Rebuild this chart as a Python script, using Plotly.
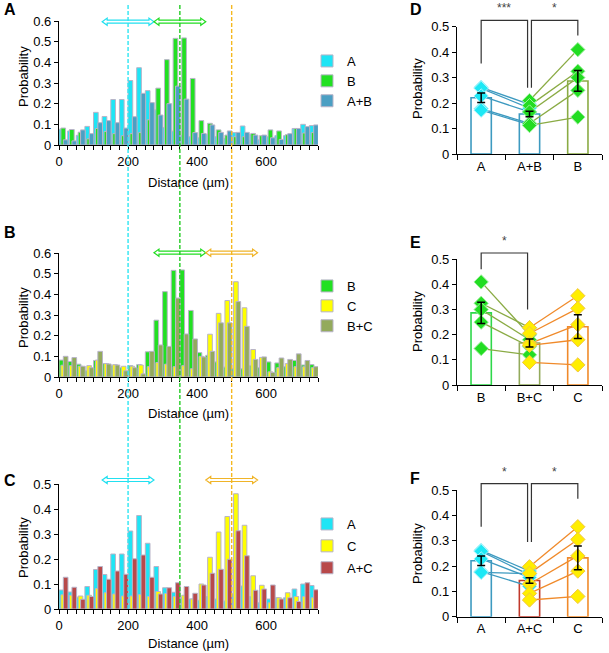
import plotly.graph_objects as go

W, H = 609, 653

# ---------------- data ----------------
bin_width = 25
n_bins = 30
bin_starts = [bin_width * i for i in range(n_bins)]
dist_ticks = [0, 200, 400, 600]

hist_A = [0.076, 0.068, 0.047, 0.090, 0.158, 0.138, 0.220, 0.220, 0.312, 0.374,
          0.263, 0.170, 0.085, 0.067, 0.045, 0.040, 0.035, 0.050, 0.040, 0.032,
          0.060, 0.092, 0.050, 0.025, 0.040, 0.045, 0.045, 0.080, 0.100, 0.094]
hist_B = [0.082, 0.075, 0.062, 0.030, 0.080, 0.065, 0.055, 0.045, 0.055, 0.060,
          0.122, 0.275, 0.413, 0.516, 0.518, 0.322, 0.118, 0.105, 0.073, 0.048,
          0.040, 0.040, 0.056, 0.045, 0.073, 0.068, 0.050, 0.080, 0.058, 0.060]
hist_C = [0.057, 0.055, 0.052, 0.055, 0.082, 0.065, 0.060, 0.052, 0.052, 0.058,
          0.050, 0.070, 0.062, 0.050, 0.055, 0.040, 0.100, 0.207, 0.308, 0.370,
          0.461, 0.335, 0.133, 0.095, 0.025, 0.045, 0.065, 0.050, 0.050, 0.045]
hist_AB = [0.025, 0.020, 0.073, 0.055, 0.108, 0.118, 0.108, 0.082, 0.137, 0.250,
           0.205, 0.145, 0.200, 0.285, 0.222, 0.060, 0.056, 0.097, 0.061, 0.068,
           0.061, 0.061, 0.048, 0.048, 0.035, 0.027, 0.055, 0.080, 0.089, 0.097]
hist_BC = [0.100, 0.094, 0.052, 0.045, 0.124, 0.063, 0.058, 0.030, 0.045, 0.015,
           0.124, 0.155, 0.148, 0.382, 0.208, 0.184, 0.097, 0.124, 0.262, 0.262,
           0.365, 0.245, 0.085, 0.097, 0.022, 0.092, 0.085, 0.112, 0.080, 0.050]
hist_AC = [0.127, 0.087, 0.039, 0.050, 0.170, 0.119, 0.152, 0.139, 0.201, 0.216,
           0.127, 0.060, 0.085, 0.105, 0.090, 0.063, 0.096, 0.143, 0.159, 0.199,
           0.313, 0.213, 0.075, 0.080, 0.096, 0.040, 0.045, 0.030, 0.105, 0.077]

peak_centers = {"A": 200, "B": 350, "C": 500}
window_half = 75

d_cats = ["A", "A+B", "B"]
d_means = [0.221, 0.157, 0.287]
d_err = [0.019, 0.011, 0.041]
d_left = [0.262, 0.258, 0.228, 0.178, 0.172]
d_mid_left = [0.195, 0.180, 0.165, 0.120, 0.115]
d_mid_right = [0.210, 0.190, 0.165, 0.120, 0.112]
d_right = [0.410, 0.325, 0.300, 0.250, 0.145]
d_sig = [(0, 0.96, 0.355, 0.26, "***"), (1.04, 2, 0.26, 0.465, "*")]

e_cats = ["B", "B+C", "C"]
e_means = [0.287, 0.167, 0.232]
e_err = [0.042, 0.016, 0.047]
e_left = [0.410, 0.325, 0.300, 0.250, 0.145]
e_mid_left = [0.200, 0.228, 0.180, 0.153, 0.120]
e_mid_right = [0.228, 0.205, 0.165, 0.158, 0.090]
e_right = [0.355, 0.305, 0.240, 0.180, 0.080]
e_sig = [(0, 0.96, 0.46, 0.30, "*")]

f_cats = ["A", "A+C", "C"]
f_means = [0.221, 0.143, 0.232]
f_err = [0.019, 0.011, 0.047]
f_left = [0.262, 0.258, 0.228, 0.178, 0.175]
f_mid_left = [0.180, 0.165, 0.155, 0.120, 0.170]
f_mid_right = [0.197, 0.171, 0.129, 0.092, 0.066]
f_right = [0.355, 0.305, 0.240, 0.180, 0.080]
f_sig = [(0, 0.96, 0.355, 0.295, "*"), (1.04, 2, 0.295, 0.465, "*")]
sig_top = 0.525

# ---------------- styles ----------------
FONT = "Liberation Sans, Arial, sans-serif"
col_A, col_B, col_C = "#1ee5f5", "#22e022", "#ffff00"
col_AB, col_BC, col_AC = "#4b9fc3", "#93aa5c", "#b8494a"
dash_col = {"A": "#2ee6f2", "B": "#22cc22", "C": "#f5b820"}
arrow_col = {"A": "#22e0f0", "B": "#22dd22", "C": "#f0b428"}
blue_line, olive_line, orange_line, red_bar = "#3d9ac0", "#8aab44", "#f08a2a", "#c0392b"
green_bar = "#2ed84a"
mk = {"cyan": ("#1de8f5", "#a8f4fb"), "green": ("#22dd22", "#9cf09c"),
      "yellow": ("#ffee00", "#f2c640")}


def pxx(p):
    return p / W


def pxy(p):
    return 1 - p / H


fig = go.Figure()
shapes, annots = [], []
layout = {}

bar_w = 13.5
offsets = [0.0, 5.5, 12.5]
hx0, hx1 = 59, 318

hist_panels = [
    dict(i=1, ytop=21, ybot=145, ymax=0.6, legend="legend", leg_top=46,
         series=[("A", hist_A, col_A), ("B", hist_B, col_B), ("A+B", hist_AB, col_AB)],
         arrows=["A", "B"], arrow_y=21.7, letter="A", letter_y=10, title_y=183, prob_y=77),
    dict(i=2, ytop=253, ybot=377, ymax=0.6, legend="legend2", leg_top=271,
         series=[("B", hist_B, col_B), ("C", hist_C, col_C), ("B+C", hist_BC, col_BC)],
         arrows=["B", "C"], arrow_y=252.7, letter="B", letter_y=232, title_y=413, prob_y=318),
    dict(i=3, ytop=484, ybot=609, ymax=0.5, legend="legend3", leg_top=509,
         series=[("A", hist_A, col_A), ("C", hist_C, col_C), ("A+C", hist_AC, col_AC)],
         arrows=["A", "C"], arrow_y=480, letter="C", letter_y=480, title_y=643, prob_y=548),
]

for p in hist_panels:
    i = p["i"]
    xa, ya = ("x" if i == 1 else f"x{i}"), ("y" if i == 1 else f"y{i}")
    for k, (name, vals, col) in enumerate(p["series"]):
        fig.add_trace(go.Bar(
            x=bin_starts, y=vals, offset=offsets[k], width=bar_w, name=name,
            marker=dict(color=col, line=dict(color="#b8b4c8", width=1)),
            xaxis=xa, yaxis=ya, legend=p["legend"], legendgroup=f"{p['legend']}{k}",
            showlegend=True, hoverinfo="x+y+name"))
    yt = [round(0.1 * j, 1) for j in range(int(round(p["ymax"] * 10)) + 1)]
    layout["xaxis" if i == 1 else f"xaxis{i}"] = dict(
        domain=[pxx(hx0), pxx(hx1)], range=[0, 750], anchor=ya,
        showline=True, linecolor="black", linewidth=1.3, ticks="outside", ticklen=4,
        tickcolor="black", tickvals=dist_ticks, showgrid=False, zeroline=False,
        minor=dict(dtick=bin_width, tick0=0, ticks="outside", ticklen=4, tickcolor="black", showgrid=False),
        tickfont=dict(size=13, family=FONT, color="black"), automargin=False)
    layout["yaxis" if i == 1 else f"yaxis{i}"] = dict(
        domain=[pxy(p["ybot"]), pxy(p["ytop"])], range=[0, p["ymax"]], anchor=xa,
        showline=True, linecolor="black", linewidth=1.3, ticks="outside", ticklen=4,
        tickcolor="black", tickmode="array", tickvals=yt, ticktext=[("0" if v == 0 else f"{v:.1f}") for v in yt],
        showgrid=False, zeroline=False, tickfont=dict(size=13, family=FONT, color="black"),
        automargin=False)
    layout[p["legend"]] = dict(x=pxx(307), y=pxy(p["leg_top"]), xanchor="left", yanchor="top",
                               font=dict(size=13, family=FONT, color="black"),
                               bgcolor="rgba(0,0,0,0)", tracegroupgap=(2 if i == 3 else 0),
                               itemclick=False)
    # double-headed hollow arrows marking windows
    hl = 5 * 750 / (hx1 - hx0)
    for key in p["arrows"]:
        c = peak_centers[key]
        x0, x1 = c - window_half, c + window_half
        yc = pxy(p["arrow_y"])
        hh, sh = 3.6 / H, 1.5 / H
        path = (f"M {x0},{yc} L {x0+hl},{yc+hh} L {x0+hl},{yc+sh} L {x1-hl},{yc+sh} "
                f"L {x1-hl},{yc+hh} L {x1},{yc} L {x1-hl},{yc-hh} L {x1-hl},{yc-sh} "
                f"L {x0+hl},{yc-sh} L {x0+hl},{yc-hh} Z")
        shapes.append(dict(type="path", xref="x", yref="paper", path=path,
                           fillcolor="white", line=dict(color=arrow_col[key], width=1.2),
                           layer="above"))
    annots.append(dict(text=f"<b>{p['letter']}</b>", x=pxx(2), y=pxy(p["letter_y"]), xref="paper",
                       yref="paper", xanchor="left", yanchor="middle", showarrow=False,
                       font=dict(size=16, family=FONT, color="black")))
    annots.append(dict(text="Probability", x=pxx(23), y=pxy(p["prob_y"]), xref="paper", yref="paper",
                       textangle=-90, showarrow=False, xanchor="center", yanchor="middle",
                       font=dict(size=13, family=FONT, color="black")))
    annots.append(dict(text="Distance (µm)", x=pxx((hx0 + hx1) / 2), y=pxy(p["title_y"]),
                       xref="paper", yref="paper", showarrow=False, xanchor="center",
                       yanchor="middle", font=dict(size=13, family=FONT, color="black")))

# vertical dashed reference lines through the three histograms
for key, c in peak_centers.items():
    shapes.append(dict(type="line", xref="x", yref="paper", x0=c, x1=c, y0=pxy(5), y1=pxy(609),
                       line=dict(color=dash_col[key], width=1.4, dash="4px,2px"), layer="above"))

# ---------------- summary panels ----------------
sx0, sx1 = 457, 602
sum_panels = [
    dict(i=4, ytop=26.7, ybot=154, cats=d_cats, means=d_means, err=d_err,
         bar_cols=[blue_line, blue_line, olive_line], left=d_left, ml=d_mid_left, mr=d_mid_right,
         right=d_right, lc=(blue_line, olive_line), mcols=("cyan", "cyan", "green", "green"),
         sig=d_sig, letter="D", letter_y=10, prob_y=89),
    dict(i=5, ytop=259.3, ybot=385, cats=e_cats, means=e_means, err=e_err,
         bar_cols=[green_bar, col_BC, orange_line], left=e_left, ml=e_mid_left, mr=e_mid_right,
         right=e_right, lc=(olive_line, orange_line), mcols=("green", "green", "yellow", "yellow"),
         sig=e_sig, letter="E", letter_y=242.5, prob_y=322),
    dict(i=6, ytop=490, ybot=616.7, cats=f_cats, means=f_means, err=f_err,
         bar_cols=[blue_line, red_bar, orange_line], left=f_left, ml=f_mid_left, mr=f_mid_right,
         right=f_right, lc=(blue_line, orange_line), mcols=("cyan", "cyan", "yellow", "yellow"),
         sig=f_sig, letter="F", letter_y=478.5, prob_y=554),
]

for p in sum_panels:
    i = p["i"]
    xa, ya = f"x{i}", f"y{i}"
    cats = p["cats"]
    fig.add_trace(go.Bar(x=cats, y=p["means"], width=0.42, xaxis=xa, yaxis=ya, showlegend=False,
                         marker=dict(color="white", line=dict(color=p["bar_cols"], width=1.6))))
    for (a, b, cA, cB, lc) in [(p["left"], p["ml"], cats[0], cats[1], p["lc"][0]),
                               (p["mr"], p["right"], cats[1], cats[2], p["lc"][1])]:
        xs, ys = [], []
        for va, vb in zip(a, b):
            xs += [cA, cB, None]
            ys += [va, vb, None]
        fig.add_trace(go.Scatter(x=xs, y=ys, mode="lines", line=dict(color=lc, width=1.3),
                                 xaxis=xa, yaxis=ya, showlegend=False, hoverinfo="skip"))
    for vals, cat, mc in [(p["left"], cats[0], p["mcols"][0]), (p["ml"], cats[1], p["mcols"][1]),
                          (p["mr"], cats[1], p["mcols"][2]), (p["right"], cats[2], p["mcols"][3])]:
        fill, edge = mk[mc]
        fig.add_trace(go.Scatter(x=[cat] * len(vals), y=vals, mode="markers",
                                 marker=dict(symbol="diamond", size=11, color=fill,
                                             line=dict(color=edge, width=1)),
                                 xaxis=xa, yaxis=ya, showlegend=False))
    fig.add_trace(go.Scatter(x=cats, y=p["means"], mode="markers",
                             marker=dict(size=1, color="rgba(0,0,0,0)"),
                             error_y=dict(type="data", array=p["err"], color="black", thickness=1.5, width=4),
                             xaxis=xa, yaxis=ya, showlegend=False, hoverinfo="skip"))
    y0p, y1p = pxy(p["ybot"]), pxy(p["ytop"])
    layout[f"xaxis{i}"] = dict(domain=[pxx(sx0), pxx(sx1)], anchor=ya, type="category",
                               range=[-0.5, 2.5], showline=True, linecolor="black", linewidth=1.3,
                               ticks="outside", tickson="boundaries", ticklen=5, tickcolor="black",
                               showgrid=False, zeroline=False, automargin=False,
                               tickfont=dict(size=13, family=FONT, color="black"))
    yt = [round(0.1 * j, 1) for j in range(6)]
    layout[f"yaxis{i}"] = dict(domain=[y0p, y1p], anchor=xa, range=[0, 0.5], showline=True,
                               linecolor="black", linewidth=1.3, ticks="outside", ticklen=4,
                               tickcolor="black", tickmode="array", tickvals=yt,
                               ticktext=[("0" if v == 0 else f"{v:.1f}") for v in yt],
                               showgrid=False, zeroline=False, automargin=False,
                               tickfont=dict(size=13, family=FONT, color="black"))

    def vy(v, y0p=y0p, y1p=y1p):
        return y0p + v / 0.5 * (y1p - y0p)

    for (xl, xr, yl, yr, star) in p["sig"]:
        path = f"M {xl},{vy(yl)} L {xl},{vy(sig_top)} L {xr},{vy(sig_top)} L {xr},{vy(yr)}"
        shapes.append(dict(type="path", xref=xa, yref="paper", path=path,
                           line=dict(color="#333333", width=1.2), layer="above"))
        annots.append(dict(text=star, x=(xl + xr) / 2, y=vy(sig_top) + 3 / H, xref=xa, yref="paper",
                           showarrow=False, xanchor="center", yanchor="bottom",
                           font=dict(size=12, family=FONT, color="#444444")))
    annots.append(dict(text=f"<b>{p['letter']}</b>", x=pxx(408), y=pxy(p["letter_y"]), xref="paper",
                       yref="paper", xanchor="left", yanchor="middle", showarrow=False,
                       font=dict(size=16, family=FONT, color="black")))
    annots.append(dict(text="Probability", x=pxx(417), y=pxy(p["prob_y"]), xref="paper", yref="paper",
                       textangle=-90, showarrow=False, xanchor="center", yanchor="middle",
                       font=dict(size=13, family=FONT, color="black")))

fig.update_layout(
    width=W, height=H, margin=dict(l=0, r=0, t=0, b=0),
    paper_bgcolor="white", plot_bgcolor="white", barmode="overlay",
    font=dict(family=FONT, size=13, color="black"),
    shapes=shapes, annotations=annots, **layout)

fig.write_html("out.html", config={"displayModeBar": False},
               post_script="document.body.style.margin='0';document.body.style.padding='0';")
